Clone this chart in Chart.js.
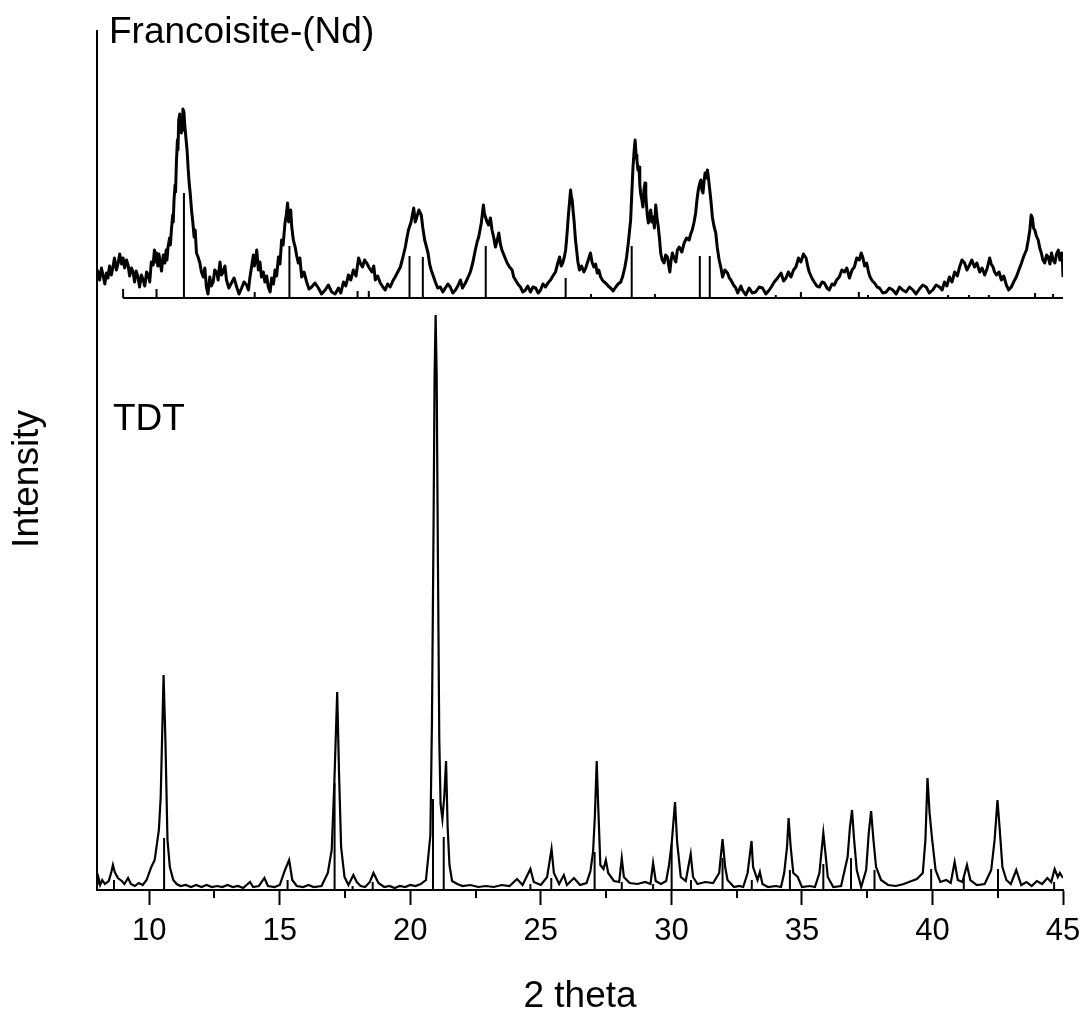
<!DOCTYPE html>
<html>
<head>
<meta charset="utf-8">
<script src="https://cdn.jsdelivr.net/npm/chart.js@4.4.1/dist/chart.umd.min.js"></script>
<style>
  html, body { margin: 0; padding: 0; background: #fff; }
  #wrap { width: 1085px; height: 1019px; }
</style>
</head>
<body>
<div id="wrap"><canvas id="xrd" width="1085" height="1019"></canvas></div>
<script>
// [2theta, intensity] - intensity in arbitrary units
const francoisite = [
  [8.0,620],[8.04,618],[8.1,610],[8.17,622],[8.23,615],[8.3,606],[8.36,617],[8.42,612],[8.48,624],[8.55,615],
  [8.61,623],[8.67,632],[8.74,620],[8.81,627],[8.87,636],[8.94,626],[9.0,632],[9.06,622],[9.13,630],[9.19,625],
  [9.25,614],[9.32,622],[9.38,618],[9.44,608],[9.5,619],[9.57,613],[9.63,603],[9.7,615],[9.77,610],[9.83,604],
  [9.9,618],[9.96,615],[10.02,608],[10.08,628],[10.15,625],[10.2,640],[10.24,628],[10.28,637],[10.33,624],[10.37,636],
  [10.41,630],[10.47,619],[10.54,635],[10.6,627],[10.65,640],[10.68,630],[10.72,643],[10.78,652],[10.81,645],[10.85,660],
  [10.9,675],[10.92,668],[10.95,690],[10.99,705],[11.01,698],[11.04,727],[11.08,750],[11.1,740],[11.13,770],[11.17,776],
  [11.19,762],[11.21,772],[11.23,757],[11.26,760],[11.29,781],[11.33,778],[11.36,765],[11.39,757],[11.42,748],[11.45,740],
  [11.49,722],[11.53,707],[11.57,697],[11.62,680],[11.67,668],[11.72,653],[11.76,660],[11.81,637],[11.87,633],[11.94,627],
  [12.0,618],[12.07,613],[12.13,622],[12.19,603],[12.25,596],[12.32,613],[12.38,604],[12.45,608],[12.51,620],[12.58,618],
  [12.64,610],[12.71,628],[12.77,615],[12.83,618],[12.9,624],[12.96,610],[13.05,602],[13.15,607],[13.25,612],[13.35,603],
  [13.44,596],[13.54,602],[13.63,608],[13.73,605],[13.8,600],[13.86,613],[13.93,625],[13.99,635],[14.03,624],[14.07,630],
  [14.12,640],[14.18,620],[14.24,628],[14.3,613],[14.37,618],[14.43,608],[14.5,614],[14.56,603],[14.63,598],[14.69,612],
  [14.76,606],[14.82,620],[14.88,614],[14.95,633],[15.01,626],[15.07,650],[15.13,645],[15.2,667],[15.25,675],[15.3,687],
  [15.34,668],[15.38,673],[15.42,680],[15.46,663],[15.52,650],[15.59,643],[15.65,634],[15.71,627],[15.77,632],[15.84,613],
  [15.93,618],[16.03,608],[16.12,601],[16.22,603],[16.35,607],[16.48,602],[16.6,596],[16.74,600],[16.86,605],[16.99,598],
  [17.12,596],[17.25,602],[17.34,597],[17.44,608],[17.53,604],[17.63,615],[17.72,610],[17.82,620],[17.92,614],[18.02,632],
  [18.1,626],[18.17,623],[18.25,630],[18.33,627],[18.43,622],[18.53,618],[18.6,624],[18.66,610],[18.75,614],[18.85,607],
  [18.95,603],[19.04,600],[19.13,606],[19.23,603],[19.33,609],[19.42,613],[19.52,618],[19.62,623],[19.71,632],[19.81,643],
  [19.87,652],[19.93,660],[20.03,668],[20.13,682],[20.19,668],[20.25,673],[20.33,680],[20.42,675],[20.48,662],[20.55,650],
  [20.61,644],[20.68,637],[20.74,626],[20.8,620],[20.88,614],[20.96,608],[21.05,602],[21.15,603],[21.25,598],[21.34,602],
  [21.44,606],[21.53,603],[21.63,597],[21.73,600],[21.82,604],[21.92,610],[22.0,602],[22.11,607],[22.2,612],[22.3,618],
  [22.4,628],[22.49,640],[22.56,648],[22.62,653],[22.67,660],[22.72,667],[22.76,676],[22.8,685],[22.84,676],[22.88,673],
  [22.94,668],[23.0,665],[23.07,672],[23.13,660],[23.2,652],[23.26,643],[23.33,650],[23.39,657],[23.45,646],[23.51,640],
  [23.6,634],[23.71,627],[23.8,623],[23.9,620],[23.96,613],[24.03,610],[24.12,606],[24.22,603],[24.31,598],[24.41,600],
  [24.5,604],[24.6,598],[24.7,603],[24.8,602],[24.9,597],[24.99,600],[25.08,606],[25.18,603],[25.27,607],[25.37,610],
  [25.46,614],[25.56,618],[25.64,626],[25.72,633],[25.78,624],[25.84,627],[25.9,633],[25.95,640],[26.0,655],[26.05,673],
  [26.1,688],[26.14,700],[26.17,693],[26.2,690],[26.24,678],[26.28,667],[26.32,652],[26.37,640],[26.42,628],[26.48,620],
  [26.56,624],[26.65,618],[26.72,622],[26.78,627],[26.84,632],[26.9,637],[26.96,628],[27.03,623],[27.1,626],[27.16,617],
  [27.22,620],[27.29,613],[27.38,609],[27.48,607],[27.58,604],[27.67,602],[27.77,599],[27.87,603],[27.96,606],[28.06,608],
  [28.14,614],[28.22,623],[28.28,632],[28.35,647],[28.4,660],[28.44,670],[28.49,700],[28.53,723],[28.57,738],[28.61,750],
  [28.65,735],[28.68,730],[28.72,720],[28.76,723],[28.79,706],[28.82,697],[28.87,690],[28.91,683],[28.95,700],[28.99,707],
  [29.02,696],[29.04,687],[29.08,674],[29.12,667],[29.17,676],[29.21,680],[29.25,668],[29.3,673],[29.35,662],[29.4,685],
  [29.45,672],[29.5,663],[29.55,650],[29.59,637],[29.65,630],[29.72,627],[29.78,635],[29.85,633],[29.9,624],[29.94,618],
  [29.99,630],[30.04,637],[30.1,632],[30.17,628],[30.23,640],[30.3,643],[30.4,638],[30.49,647],[30.58,652],[30.68,650],
  [30.74,656],[30.8,660],[30.87,668],[30.93,677],[30.98,690],[31.03,700],[31.08,706],[31.13,710],[31.17,700],[31.21,697],
  [31.25,708],[31.29,717],[31.33,712],[31.38,720],[31.42,712],[31.47,700],[31.52,688],[31.57,673],[31.63,664],[31.7,657],
  [31.76,642],[31.83,630],[31.9,622],[31.96,613],[32.05,620],[32.15,617],[32.22,612],[32.28,610],[32.38,605],[32.47,602],
  [32.54,597],[32.6,600],[32.66,604],[32.72,600],[32.85,595],[32.98,602],[33.1,597],[33.23,598],[33.36,603],[33.49,602],
  [33.62,596],[33.75,600],[33.85,604],[33.94,608],[34.07,612],[34.2,617],[34.3,609],[34.39,612],[34.48,618],[34.58,613],
  [34.68,620],[34.77,623],[34.87,632],[34.96,628],[35.06,636],[35.16,632],[35.22,624],[35.28,618],[35.38,612],[35.47,608],
  [35.57,604],[35.67,603],[35.77,608],[35.86,607],[35.96,602],[36.05,600],[36.15,606],[36.24,605],[36.33,610],[36.43,613],
  [36.53,620],[36.63,618],[36.72,622],[36.82,612],[36.92,620],[37.01,623],[37.1,632],[37.2,630],[37.27,637],[37.33,633],
  [37.4,624],[37.48,627],[37.55,618],[37.61,613],[37.7,609],[37.78,607],[37.88,603],[37.97,602],[38.1,597],[38.23,598],
  [38.35,602],[38.48,600],[38.61,596],[38.74,603],[38.86,600],[38.99,598],[39.12,603],[39.25,600],[39.37,596],[39.5,601],
  [39.63,605],[39.76,603],[39.88,597],[40.01,600],[40.14,605],[40.27,603],[40.37,600],[40.46,608],[40.55,604],[40.65,613],
  [40.75,608],[40.85,618],[40.95,614],[41.04,623],[41.13,630],[41.23,627],[41.32,620],[41.42,625],[41.51,630],[41.61,623],
  [41.7,627],[41.81,618],[41.9,622],[42.0,615],[42.1,622],[42.19,632],[42.25,626],[42.32,623],[42.38,618],[42.45,615],
  [42.55,618],[42.64,610],[42.73,614],[42.83,605],[42.92,600],[43.02,603],[43.11,608],[43.21,613],[43.31,620],[43.41,627],
  [43.5,634],[43.6,640],[43.67,650],[43.73,660],[43.78,675],[43.83,672],[43.87,662],[43.92,660],[43.98,654],[44.05,650],
  [44.11,642],[44.17,637],[44.23,630],[44.3,627],[44.37,635],[44.43,633],[44.5,626],[44.56,637],[44.62,630],[44.69,627],
  [44.75,636],[44.82,640],[44.88,630],[44.95,637],[44.98,628],[45.0,613]
];

// reference pattern for Francoisite-(Nd): [2theta, stick height]
const francoisiteBase = 592;
const francoisiteSticks = [
  [9.0,9],[10.28,9],[11.33,105],[14.04,6],[15.37,52],[17.98,7],[18.41,7],[19.97,42],[20.48,41],[22.89,52],
  [25.95,20],[26.92,4],[28.48,52],[29.37,4],[31.09,42],[31.47,42],[34.0,3],[34.96,6],[37.18,6],[37.53,3],
  [40.6,3],[41.4,3],[42.16,3],[43.93,5],[44.62,4]
];
const francoisiteRange = [9.0, 45];

const tdt = [
  [8.0,4],[8.06,12],[8.12,5],[8.2,10],[8.3,6],[8.45,9],[8.55,18],[8.61,25],[8.68,18],[8.8,12],
  [8.95,9],[9.05,6],[9.19,12],[9.3,6],[9.45,4],[9.6,7],[9.75,5],[9.9,10],[10.08,23],[10.21,30],
  [10.37,60],[10.44,93],[10.55,215],[10.62,150],[10.7,50],[10.79,23],[10.92,10],[11.05,6],[11.2,4],[11.4,5],
  [11.6,3],[11.8,5],[12.0,3],[12.2,5],[12.4,3],[12.6,4],[12.8,3],[13.0,5],[13.2,3],[13.4,4],
  [13.6,2],[13.86,8],[13.98,3],[14.2,4],[14.41,12],[14.55,4],[14.8,3],[15.0,5],[15.2,20],[15.36,30],
  [15.48,10],[15.65,4],[15.9,3],[16.1,5],[16.3,3],[16.6,4],[16.84,17],[16.99,40],[17.09,107],[17.2,198],
  [17.27,117],[17.35,43],[17.48,13],[17.63,5],[17.82,15],[17.95,8],[18.1,4],[18.27,3],[18.45,8],[18.59,17],
  [18.78,7],[19.0,3],[19.2,4],[19.4,2],[19.6,4],[19.8,3],[20.0,5],[20.2,4],[20.4,6],[20.6,10],
  [20.77,55],[20.83,170],[20.89,361],[20.93,514],[20.97,575],[21.01,514],[21.06,323],[21.11,151],[21.16,86],[21.23,71],
  [21.3,93],[21.37,129],[21.43,63],[21.5,25],[21.6,9],[21.8,6],[22.0,4],[22.3,5],[22.6,3],[22.9,4],
  [23.2,3],[23.5,5],[23.8,4],[24.09,11],[24.3,5],[24.6,21],[24.73,8],[25.0,5],[25.24,13],[25.41,41],
  [25.5,17],[25.7,6],[25.88,15],[26.0,5],[26.27,12],[26.5,5],[26.75,7],[26.9,19],[27.0,38],[27.07,74],
  [27.14,129],[27.2,82],[27.28,25],[27.4,21],[27.49,30],[27.58,17],[27.8,9],[28.0,8],[28.1,32],[28.18,13],
  [28.4,7],[28.7,6],[29.0,8],[29.2,6],[29.3,27],[29.4,9],[29.6,6],[29.8,9],[29.91,25],[30.01,46],
  [30.14,88],[30.22,48],[30.36,13],[30.55,9],[30.74,36],[30.83,13],[31.0,6],[31.3,8],[31.6,7],[31.83,17],
  [31.96,51],[32.06,23],[32.15,10],[32.4,3],[32.6,4],[32.75,3],[32.92,17],[33.07,49],[33.13,23],[33.3,10],
  [33.39,18],[33.49,6],[33.7,3],[34.0,4],[34.2,3],[34.32,17],[34.43,43],[34.49,72],[34.57,43],[34.67,17],
  [34.84,13],[35.0,3],[35.3,4],[35.5,3],[35.67,17],[35.82,57],[35.9,37],[35.99,13],[36.2,3],[36.5,4],
  [36.75,33],[36.84,63],[36.92,80],[37.0,50],[37.1,20],[37.27,3],[37.46,20],[37.56,57],[37.65,79],[37.74,50],
  [37.84,23],[38.03,10],[38.3,5],[38.6,4],[38.9,6],[39.2,9],[39.4,11],[39.63,17],[39.73,50],[39.81,112],
  [39.89,77],[39.99,50],[40.12,20],[40.3,8],[40.53,10],[40.7,7],[40.85,28],[40.97,10],[41.15,8],[41.32,25],
  [41.45,10],[41.7,5],[42.0,6],[42.25,20],[42.38,50],[42.49,90],[42.57,63],[42.68,23],[42.83,10],[43.0,6],
  [43.21,20],[43.4,5],[43.6,8],[43.8,4],[44.0,9],[44.2,6],[44.4,12],[44.55,8],[44.68,21],[44.8,13],
  [44.88,17],[45.0,12]
];

// reference pattern for TDT, drawn up from the x axis
const tdtSticks = [
  [8.65,10],[10.57,52],[15.3,10],[17.1,107],[17.79,4],[18.56,8],[20.87,91],[21.28,53],[24.6,6],[25.4,12],
  [27.06,38],[28.1,8],[29.3,6],[30.01,46],[30.75,10],[31.96,32],[33.08,10],[34.54,20],[35.82,26],[36.88,32],
  [37.78,20],[39.95,21],[41.2,12],[42.51,21],[44.66,8]
];

const xTicks = [10, 15, 20, 25, 30, 35, 40, 45];
const xMinorTicks = [12.5, 17.5, 22.5, 27.5, 32.5, 37.5, 42.5];

const FONT = '"Liberation Sans", Arial, Helvetica, sans-serif';

function toPoints(pairs) {
  return pairs.map(p => ({ x: p[0], y: p[1] }));
}

// each stick becomes base -> top, then a gap
function stickPoints(sticks, base) {
  const pts = [];
  sticks.forEach(s => {
    pts.push({ x: s[0], y: base }, { x: s[0], y: base + s[1] }, { x: s[0], y: null });
  });
  return pts;
}

const lineStyle = {
  borderColor: '#000',
  pointRadius: 0,
  tension: 0,
  fill: false,
  spanGaps: false,
};

// texts and minor ticks
const extras = {
  id: 'extras',
  afterDraw(chart) {
    const { ctx, chartArea, scales } = chart;
    ctx.save();
    ctx.strokeStyle = '#000';
    ctx.lineWidth = 2;
    xMinorTicks.forEach(v => {
      const px = Math.round(scales.x.getPixelForValue(v));
      ctx.beginPath();
      ctx.moveTo(px, chartArea.bottom);
      ctx.lineTo(px, chartArea.bottom + 8);
      ctx.stroke();
    });

    ctx.fillStyle = '#000';
    ctx.font = '37px ' + FONT;
    ctx.textAlign = 'left';
    ctx.textBaseline = 'alphabetic';
    ctx.fillText('Francoisite-(Nd)', chartArea.left + 12, 43);
    ctx.fillText('TDT', chartArea.left + 16, 430);

    ctx.translate(28, 479);
    ctx.rotate(-Math.PI / 2);
    ctx.textAlign = 'center';
    ctx.textBaseline = 'middle';
    ctx.fillText('Intensity', 0, 0);
    ctx.restore();
  }
};

new Chart(document.getElementById('xrd'), {
  type: 'line',
  data: {
    datasets: [
      { ...lineStyle, data: toPoints(francoisite), borderWidth: 3, borderJoinStyle: 'round' },
      { ...lineStyle, data: toPoints(francoisiteRange.map(x => [x, francoisiteBase])), borderWidth: 2 },
      { ...lineStyle, data: stickPoints(francoisiteSticks, francoisiteBase), borderWidth: 2 },
      { ...lineStyle, data: toPoints(tdt), borderWidth: 2.2 },
      { ...lineStyle, data: stickPoints(tdtSticks, 0), borderWidth: 2 },
    ]
  },
  options: {
    responsive: false,
    animation: false,
    devicePixelRatio: 1,
    layout: { padding: { left: 0, right: 22, top: 31, bottom: 0 } },
    plugins: {
      legend: { display: false },
      tooltip: { enabled: false },
    },
    scales: {
      x: {
        type: 'linear',
        position: 'bottom',
        min: 8,
        max: 45,
        afterBuildTicks: s => { s.ticks = xTicks.map(v => ({ value: v })); },
        afterFit: s => { s.height = 129; s.paddingLeft = 0; s.paddingRight = 0; },
        ticks: {
          color: '#000',
          font: { family: FONT, size: 31 },
          padding: 8,
          maxRotation: 0,
          autoSkip: false,
        },
        grid: {
          display: true,
          drawOnChartArea: false,
          tickLength: 15,
          tickWidth: 2,
          tickColor: '#000',
        },
        border: { display: true, color: '#000', width: 2 },
        title: {
          display: true,
          text: '2 theta',
          color: '#000',
          font: { family: FONT, size: 37 },
          padding: { top: 0, bottom: 0 },
        },
      },
      y: {
        type: 'linear',
        min: 0,
        max: 859,
        afterFit: s => { s.width = 97; },
        ticks: { display: false },
        grid: { display: false },
        border: { display: true, color: '#000', width: 2 },
      },
    },
  },
  plugins: [extras],
});
</script>
</body>
</html>
